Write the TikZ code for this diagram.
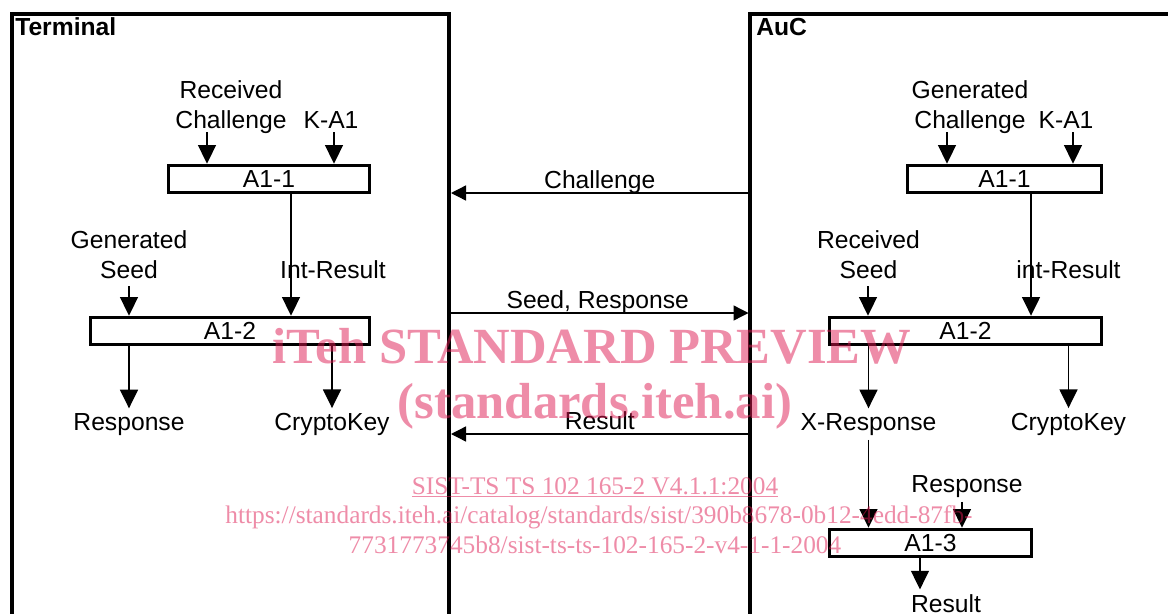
\documentclass[tikz,border=0pt]{standalone}
\usepackage{fontspec}
\setmainfont{Liberation Sans}
\newfontfamily\wmfont{Liberation Serif}
\usetikzlibrary{arrows.meta}
\definecolor{wmpink}{RGB}{221,25,81}

\begin{document}
\begin{tikzpicture}[x=0.75pt,y=-0.75pt,>={Triangle[width=13.5pt,length=14pt]},
  lbl/.style={font=\fontsize{18.5pt}{22.5pt}\selectfont,align=center,anchor=base},
  hdr/.style={font=\fontsize{18.5pt}{22.5pt}\selectfont\bfseries,anchor=base west,inner sep=0pt},
  algbox/.style={draw,line width=2.7pt,minimum height=20.25pt,inner sep=0pt,
    font=\fontsize{18.5pt}{22.5pt}\selectfont},
  frame/.style={line width=2.6pt},
  link/.style={->,line width=1pt},
  msg/.style={line width=1pt,-{Triangle[width=11.25pt,length=11.25pt]}},
  msglbl/.style={midway,anchor=base,yshift=3.75pt,inner sep=0pt,font=\fontsize{18.5pt}{22.5pt}\selectfont},
  wm/.style={text=wmpink,text opacity=0.5,anchor=base,inner sep=0pt},
  wmsm/.style={wm,font=\wmfont\fontsize{19pt}{21pt}\selectfont}]
  \useasboundingbox (0,0) rectangle (1168,614);

  % frames
  \draw[frame] (12,614) -- (12,14) -- (449,14) -- (449,614);
  \draw[frame] (750,614) -- (750,14) -- (1168,14);
  \node[hdr] (tHdr) at (15,36) {Terminal};
  \node[hdr] (aHdr) at (756,36) {AuC};

  % terminal side
  \node[lbl] (tRC) at (231,128) {Received\\Challenge};
  \node[lbl] (tKA) at (331,128) {K-A1};
  \node[algbox,minimum width=150.75pt] (tA11) at (269,179) {A1-1};
  \node[lbl] (tGS) at (129,278) {Generated\\Seed};
  \node[lbl] (tIR) at (333,278) {Int-Result};
  \node[algbox,minimum width=209.25pt] (tA12) at (230,331) {A1-2};
  \node[lbl] (tRsp) at (129,430) {Response};
  \node[lbl] (tCK) at (332,430) {CryptoKey};
  \coordinate (tRCin) at (207,132);
  \coordinate (tKAin) at (334,132);
  \coordinate (tGSin) at (129,286);

  \draw[link] (tRCin) -- (tRCin |- tA11.north);
  \draw[link] (tKAin) -- (tKAin |- tA11.north);
  \draw[link] ([xshift=16.5pt]tA11.south) -- ([xshift=16.5pt]tA11.south |- tA12.north);
  \draw[link] (tGSin) -- (tGSin |- tA12.north);
  \draw[link] (tA12.south -| tRsp) -- (tRsp.north);
  \draw[link] (tA12.south -| tCK) -- (tCK.north);

  % AuC side
  \node[lbl] (aGC) at (970,128) {Generated\\Challenge};
  \node[lbl] (aKA) at (1066,128) {K-A1};
  \node[algbox,minimum width=145.5pt] (aA11) at (1004.5,179) {A1-1};
  \node[lbl] (aRS) at (868.5,278) {Received\\Seed};
  \node[lbl] (aIR) at (1068.5,278) {int-Result};
  \node[algbox,minimum width=204pt] (aA12) at (965.5,331) {A1-2};
  \node[lbl] (aXR) at (868.5,430) {X-Response};
  \node[lbl] (aCK) at (1068.5,430) {CryptoKey};
  \node[lbl] (aRsp) at (967,492) {Response};
  \node[algbox,minimum width=151.5pt] (aA13) at (930.5,543) {A1-3};
  \node[lbl] (aRes) at (946,612) {Result};
  \coordinate (aGCin) at (947,132);
  \coordinate (aKAin) at (1073,132);
  \coordinate (aRSin) at (868,286);

  \draw[link] (aGCin) -- (aGCin |- aA11.north);
  \draw[link] (aKAin) -- (aKAin |- aA11.north);
  \draw[link] ([xshift=19.9pt]aA11.south) -- ([xshift=19.9pt]aA11.south |- aA12.north);
  \draw[link] (aRSin) -- (aRSin |- aA12.north);
  \draw[link] (aA12.south -| aXR) -- (aXR.north);
  \draw[link] (aA12.south -| aCK) -- (aCK.north);
  \draw[link] (aXR.south) -- (aXR.south |- aA13.north);
  \draw[link] ([xshift=-3.75pt]aRsp.south) -- ([xshift=-3.75pt]aRsp.south |- aA13.north);
  \draw[link] ([xshift=-7.9pt]aA13.south) -- ([xshift=-7.9pt]aA13.south |- aRes.north);

  % messages
  \coordinate (chA) at (748.5,193);
  \coordinate (chT) at (451,193);
  \coordinate (srT) at (447,313);
  \coordinate (srA) at (748.5,313);
  \coordinate (reA) at (748.5,434);
  \coordinate (reT) at (451,434);
  \draw[msg] (chA) -- node[msglbl] {Challenge} (chT);
  \draw[msg] (srT) -- node[msglbl] {Seed, Response} (srA);
  \draw[msg] (reA) -- node[msglbl] {Result} (reT);

  % watermark
  \node[wm,font=\wmfont\bfseries\fontsize{38pt}{40pt}\selectfont] (wm1) at (592,363) {iTeh STANDARD PREVIEW};
  \node[wm,font=\wmfont\bfseries\fontsize{38pt}{40pt}\selectfont] (wm2) at (595,418) {(standards.iteh.ai)};
  \node[wmsm] (wm3) at (595,494) {\underline{SIST-TS TS 102 165-2 V4.1.1:2004}};
  \node[wmsm] (wm4) at (599,523) {https://standards.iteh.ai/catalog/standards/sist/390b8678-0b12-4edd-87fb-};
  \node[wmsm] (wm5) at (595,553) {7731773745b8/sist-ts-ts-102-165-2-v4-1-1-2004};
\end{tikzpicture}
\end{document}
